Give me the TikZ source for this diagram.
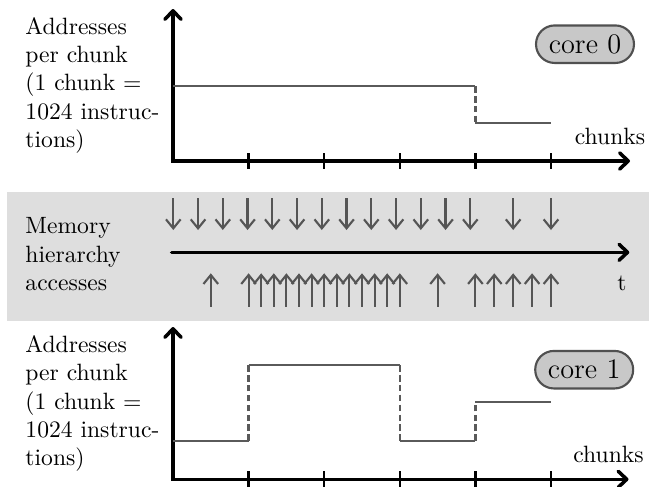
\documentclass[tikz,border=0pt]{standalone}
\usetikzlibrary{arrows.meta}

\definecolor{stepgray}{HTML}{5A5A5A}
\definecolor{accgray}{HTML}{555555}
\definecolor{bandgray}{HTML}{DEDEDE}
\definecolor{pillfill}{HTML}{C8C8C8}
\definecolor{pilledge}{HTML}{505050}

\tikzset{
  axis/.style={line width=1.5pt, black,
    arrows={Straight Barb[length=3.6pt,width=6.8pt,line join=round,line cap=round]-Straight Barb[length=3.6pt,width=6.8pt,line join=round,line cap=round]}},
  timeaxis/.style={line width=1.5pt, black, line cap=round,
    -{Straight Barb[length=3.6pt,width=6.8pt,line join=round,line cap=round]}},
  tickmark/.style={line width=1pt, black},
  level/.style={line width=1pt, stepgray},
  jump/.style={line width=1pt, stepgray, dash pattern=on 2.8pt off 1.4pt},
  access/.style={line width=0.9pt, accgray,
    -{Straight Barb[length=3.8pt,width=6.2pt,line join=miter]}},
  label/.style={inner sep=0pt, align=left, anchor=north west},
  corelabel/.style={draw=pilledge, fill=pillfill, line width=0.9pt,
    rounded corners=7.9pt, minimum width=41.5pt, minimum height=15.9pt,
    inner sep=0pt, font=\large},
  axlabel/.style={inner sep=0pt, anchor=base},
}

\begin{document}
\begin{tikzpicture}[x=0.42373pt, y=-0.42373pt]
  \useasboundingbox (0,0) rectangle (649,487);

  % shaded band behind the memory accesses
  \fill[bandgray] (6.7,191.7) rectangle (649,320.7);

  % ---------- core 0 ----------
  \node[label] (lab0) at (25,16.9) {Addresses\\per chunk\\(1 chunk =\\1024 instruc-\\tions)};
  \coordinate (o0) at (173,161);
  \coordinate (y0) at (173,9);
  \coordinate (x0) at (630,161);
  \draw[axis] (y0) -- (o0) -- (x0);
  \foreach \k in {1,...,5} {
    \coordinate (t0a\k) at (173+75.6*\k,153);
    \coordinate (t0b\k) at (173+75.6*\k,169);
    \draw[tickmark] (t0a\k) -- (t0b\k);
  }
  \node[axlabel] (ch0) at (610,144) {chunks};
  \node[corelabel] (core0) at (585,44.2) {core 0};

  \coordinate (a0) at (173,86);
  \coordinate (a1) at (475.4,86);
  \coordinate (a2) at (475.4,122.7);
  \coordinate (a3) at (551,122.7);
  \draw[level] (a0) -- (a1);
  \draw[jump] (a1) -- (a2);
  \draw[level] (a2) -- (a3);

  % ---------- memory hierarchy accesses ----------
  \node[label] (labm) at (25,217.2) {Memory\\hierarchy\\accesses};
  \coordinate (ts) at (171.7,252.3);
  \coordinate (te) at (629.3,252.3);
  \draw[timeaxis] (ts) -- (te);
  \node[axlabel] (tl) at (622,290) {t};

  % requests issued by core 0
  \foreach \x [count=\i] in {173.3,198.05,222.8,247.55,272.3,297.05,321.8,346.55,371.3,396.05,420.8,445.55,470.3,513.2,551} {
    \coordinate (dnA\i) at (\x,198.3);
    \coordinate (dnB\i) at (\x,230);
    \draw[access] (dnA\i) -- (dnB\i);
  }
  % requests issued by core 1
  \foreach \x [count=\i] in {210.8,248.6,261.2,273.8,286.4,299,311.6,324.2,336.8,349.4,362,374.6,387.2,399.8,437.6,475.4,494.3,513.2,532.1,551} {
    \coordinate (upA\i) at (\x,306.7);
    \coordinate (upB\i) at (\x,273.3);
    \draw[access] (upA\i) -- (upB\i);
  }

  % ---------- core 1 ----------
  \node[label] (lab1) at (25,335.2) {Addresses\\per chunk\\(1 chunk =\\1024 instruc-\\tions)};
  \coordinate (o1) at (173,479.3);
  \coordinate (y1) at (173,327);
  \coordinate (x1) at (628.5,479.3);
  \draw[axis] (y1) -- (o1) -- (x1);
  \foreach \k in {1,...,5} {
    \coordinate (t1a\k) at (173+75.6*\k,471.3);
    \coordinate (t1b\k) at (173+75.6*\k,487.3);
    \draw[tickmark] (t1a\k) -- (t1b\k);
  }
  \node[axlabel] (ch1) at (608.5,462) {chunks};
  \node[corelabel] (core1) at (584.2,369.7) {core 1};

  \coordinate (b0) at (173,441);
  \coordinate (b1) at (248.6,441);
  \coordinate (b2) at (248.6,365);
  \coordinate (b3) at (399.8,365);
  \coordinate (b4) at (399.8,441);
  \coordinate (b5) at (475.4,441);
  \coordinate (b6) at (475.4,402.3);
  \coordinate (b7) at (551,402.3);
  \draw[level] (b0) -- (b1);
  \draw[jump] (b1) -- (b2);
  \draw[level] (b2) -- (b3);
  \draw[jump] (b3) -- (b4);
  \draw[level] (b4) -- (b5);
  \draw[jump] (b5) -- (b6);
  \draw[level] (b6) -- (b7);
\end{tikzpicture}
\end{document}
